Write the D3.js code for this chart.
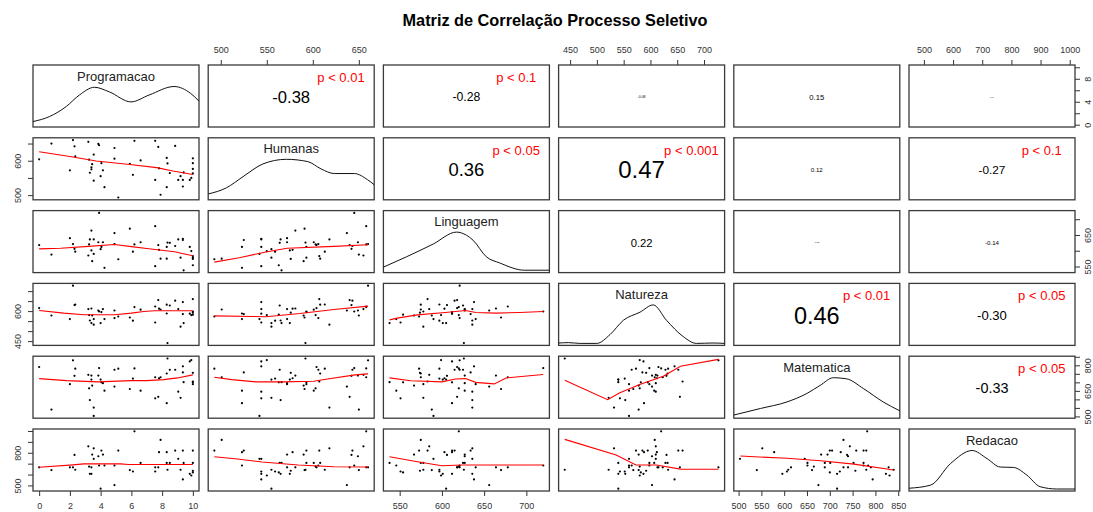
<!DOCTYPE html>
<html>
<head>
<meta charset="utf-8">
<script src="https://cdn.jsdelivr.net/npm/d3@7"></script>
<style>
body { margin: 0; background: #fff; }
text { font-family: "Liberation Sans", Arial, sans-serif; }
</style>
</head>
<body>
<div id="chart"></div>
<script>
// variables of the matrix
var varNames = ["Programacao", "Humanas", "Linguagem", "Natureza", "Matematica", "Redacao"];

// one value per student, same order in every array
var programacao = [0, 0.8, 2.0, 2.2, 2.3, 2.35, 3.2, 3.25, 3.3, 3.4, 3.4, 3.45, 3.55, 3.55, 3.85, 3.9, 4.0, 4.05, 4.15, 4.25,
	4.9, 4.9, 5.15, 5.9, 6.1, 6.2, 6.6, 7.55, 7.55, 7.75, 7.8, 7.9, 8.3, 8.3, 8.35, 8.5, 8.85, 9.05, 9.2, 9.35,
	9.35, 9.4, 9.8, 9.9, 10, 10, 10, 10];
var humanas = [604, 650, 572, 660, 642, 613, 655, 603, 565, 581, 575, 590, 618, 542, 649, 645, 555, 593, 572, 523,
	637, 606, 493, 591, 559, 658, 601, 658, 544, 640, 578, 501, 608, 523, 592, 564, 643, 544, 555, 544,
	525, 566, 544, 550, 607, 593, 576, 563];
var linguagem = [618, 588, 640, 621, 606, 597, 585, 620, 636, 664, 601, 567, 636, 590, 627, 720, 605, 612, 627, 546,
	656, 621, 573, 670, 597, 620, 627, 678, 551, 618, 603, 575, 575, 612, 626, 625, 615, 636, 578, 638,
	634, 538, 612, 599, 583, 578, 574, 554];
var natureza = [615, 578, 560, 727, 630, 633, 610, 580, 553, 613, 540, 578, 532, 560, 603, 598, 540, 595, 610, 560,
	603, 565, 573, 568, 552, 620, 607, 623, 543, 655, 612, 608, 632, 588, 440, 628, 652, 610, 522, 645,
	585, 540, 587, 580, 660, 598, 592, 582];
var matematica = [790, 540, 689, 829, 738, 780, 744, 665, 596, 740, 716, 681, 552, 503, 740, 784, 716, 700, 695, 651,
	675, 774, 780, 661, 722, 782, 651, 730, 606, 615, 724, 730, 752, 578, 840, 774, 774, 645, 609, 794,
	758, 701, 823, 831, 705, 689, 756, 700];
var redacao = [666, 641, 666, 666, 780, 644, 859, 673, 607, 666, 607, 783, 841, 744, 768, 683, 470, 820, 783, 683,
	503, 683, 820, 641, 628, 997, 707, 666, 628, 666, 805, 918, 707, 805, 644, 707, 820, 744, 644, 555,
	820, 707, 607, 591, 820, 707, 635, 619];

// density curves on the diagonal: [position along panel 0..1, height relative to peak]
var densProgramacao = [[0, .09], [.10, .22], [.20, .48], [.28, .78], [.37, .98], [.46, .86], [.59, .60], [.70, .78], [.85, 1.0], [.95, .82], [1, .62]];
var densHumanas = [[0, .10], [.11, .26], [.21, .55], [.33, .88], [.47, 1.0], [.60, .94], [.68, .75], [.76, .63], [.88, .63], [.96, .47], [1, .34]];
var densLinguagem = [[0, .09], [.14, .36], [.30, .69], [.44, 1.0], [.50, .92], [.54, .79], [.62, .36], [.70, .20], [.85, .01], [1, .01]];
var densNatureza = [[0, .01], [.06, .02], [.13, 0], [.23, 0], [.31, .23], [.39, .60], [.49, .81], [.57, 1.0], [.65, .60], [.75, .18], [.83, 0], [.93, .01], [1, 0]];
var densMatematica = [[0, .03], [.16, .20], [.32, .37], [.44, .59], [.52, .80], [.60, 1.0], [.68, .97], [.78, .72], [.90, .37], [1, .14]];
var densRedacao = [[0, .02], [.13, .10], [.25, .66], [.38, 1.0], [.47, .79], [.55, .57], [.63, .56], [.71, .36], [.79, .06], [.89, 0], [1, 0]];

// correlations in the upper triangle: [row, col]
var corPairs = [[0, 1], [0, 2], [0, 3], [0, 4], [0, 5], [1, 2], [1, 3], [1, 4], [1, 5], [2, 3], [2, 4], [2, 5], [3, 4], [3, 5], [4, 5]];
var corValues = [-0.38, -0.28, -0.08, 0.15, 0.04, 0.36, 0.47, 0.12, -0.27, 0.22, -0.05, -0.14, 0.46, -0.30, -0.33];
var corSignif = ["p < 0.01", "p < 0.1", "", "", "", "p < 0.05", "p < 0.001", "", "p < 0.1", "", "", "", "p < 0.01", "p < 0.05", "p < 0.05"];

// smoothed (red) lines of the lower panels, [x, y] in data units
var smoothPairs = [[1, 0], [2, 0], [3, 0], [4, 0], [5, 0], [2, 1], [3, 1], [4, 1], [5, 1], [3, 2], [4, 2], [5, 2], [4, 3], [5, 3], [5, 4]];
var smoothLines = [
	[[0, 626], [2.2, 611], [3.7, 599], [5.9, 589], [7.65, 580], [8.7, 570], [10, 560]],
	[[0, 606], [1.4, 608], [3.2, 614], [4.9, 620], [6, 613], [7, 607], [7.7, 603], [8.8, 597], [10, 584]],
	[[0, 603], [1.6, 590], [2.9, 582], [4.9, 582], [6, 590], [6.8, 598], [7.5, 602], [10, 602]],
	[[0, 722], [1.8, 710], [3.8, 703], [6, 710], [7, 710], [8.1, 716], [9, 726], [10, 744]],
	[[0, 667], [2.2, 689], [2.9, 698], [5.3, 698], [5.8, 692], [10, 692]],
	[[493, 564], [520, 578], [549, 596], [572, 608], [623, 614], [660, 619]],
	[[493, 576], [534, 573], [549, 572], [586, 588], [623, 608], [660, 625]],
	[[493, 730], [512, 716], [538, 703], [568, 703], [601, 706], [616, 720], [646, 744], [660, 750]],
	[[493, 763], [518, 742], [545, 715], [584, 687], [623, 672], [660, 669]],
	[[538, 556], [547, 565], [571, 581], [604, 593], [628, 603], [640, 593], [664, 590], [692, 593], [720, 598]],
	[[538, 726], [563, 709], [600, 703], [616, 720], [628, 722], [640, 700], [662, 691], [676, 726], [720, 746]],
	[[538, 763], [571, 718], [600, 681], [624, 687], [720, 687]],
	[[440, 712], [520, 598], [542, 637], [580, 687], [624, 736], [656, 795], [727, 835]],
	[[440, 923], [536, 779], [573, 687], [611, 687], [656, 650], [694, 648], [727, 648]],
	[[504, 770], [606, 749], [680, 727], [753, 696], [840, 641]]
];

// axis ticks and the subset labelled on the vertical axes
var ticks = [[0, 2, 4, 6, 8, 10], [500, 550, 600, 650], [550, 600, 650, 700], [450, 500, 550, 600, 650, 700],
	[500, 550, 600, 650, 700, 750, 800, 850], [500, 600, 700, 800, 900, 1000]];
var sideLabels = [[0, 4, 8], [500, 600], [550, 650], [450, 600], [500, 650, 800], [500, 800]];

var W = 1093, H = 512;
var left = 33, top0 = 65, pw = 166, ph = 62, stepX = 175.2, stepY = 72.8;
var n = varNames.length;
var data = [programacao, humanas, linguagem, natureza, matematica, redacao];
var dens = [densProgramacao, densHumanas, densLinguagem, densNatureza, densMatematica, densRedacao];

var svg = d3.select("#chart").append("svg")
	.attr("width", W)
	.attr("height", H);

svg.append("text")
	.attr("x", 555)
	.attr("y", 26)
	.attr("text-anchor", "middle")
	.style("font-weight", "bold")
	.style("font-size", "16.3px")
	.text("Matriz de Correlação Processo Seletivo");

// one scale per variable, padded by 4% like R
var xs = [], ys = [];
for (var k = 0; k < n; k++) {
	var ext = d3.extent(data[k]);
	var pad = (ext[1] - ext[0]) * 0.04;
	xs.push(d3.scaleLinear().domain([ext[0] - pad, ext[1] + pad]).range([left + k * stepX, left + k * stepX + pw]));
	ys.push(d3.scaleLinear().domain([ext[0] - pad, ext[1] + pad]).range([top0 + k * stepY + ph, top0 + k * stepY]));
}

var styleAxis = function(g) {
	g.select(".domain").remove();
	g.selectAll(".tick line").attr("stroke", "#333");
	g.selectAll(".tick text").attr("fill", "#333").style("font-size", "9px");
};

// column axes: bottom for odd columns, top for even columns
for (var j = 0; j < n; j++) {
	if (j % 2 == 1) {
		svg.append("g")
			.attr("transform", "translate(0," + top0 + ")")
			.call(d3.axisTop(xs[j]).tickValues(ticks[j]).tickSize(5).tickPadding(7).tickFormat(d3.format("d")))
			.call(styleAxis);
	} else {
		svg.append("g")
			.attr("transform", "translate(0," + (top0 + (n - 1) * stepY + ph) + ")")
			.call(d3.axisBottom(xs[j]).tickValues(ticks[j]).tickSize(5).tickPadding(7).tickFormat(d3.format("d")))
			.call(styleAxis);
	}
}

// row axes: right for odd rows, left for even rows, labels rotated
for (var i = 0; i < n; i++) {
	var labs = sideLabels[i];
	var fmt = function(d) { return labs.indexOf(d) >= 0 ? d : ""; };
	var ax, gx, off;
	if (i % 2 == 0) {
		ax = d3.axisRight(ys[i]); gx = left + (n - 1) * stepX + pw; off = 13;
	} else {
		ax = d3.axisLeft(ys[i]); gx = left; off = -15;
	}
	svg.append("g")
		.attr("transform", "translate(" + gx + ",0)")
		.call(ax.tickValues(ticks[i]).tickSize(5).tickFormat(fmt))
		.call(styleAxis)
		.selectAll(".tick text")
		.attr("x", 0)
		.attr("dy", "0.35em")
		.attr("text-anchor", "middle")
		.attr("transform", "translate(" + off + ",0) rotate(-90)");
}

// panel boxes
for (var i = 0; i < n; i++) {
	for (var j = 0; j < n; j++) {
		svg.append("rect")
			.attr("x", left + j * stepX)
			.attr("y", top0 + i * stepY)
			.attr("width", pw)
			.attr("height", ph)
			.attr("fill", "none")
			.attr("stroke", "#3a3a3a")
			.attr("stroke-width", 1.3);
	}
}

// lower panels: points
for (var i = 1; i < n; i++) {
	for (var j = 0; j < i; j++) {
		svg.append("g")
			.selectAll("circle")
			.data(d3.range(data[0].length))
			.enter()
			.append("circle")
			.attr("cx", function(d) { return xs[j](data[j][d]); })
			.attr("cy", function(d) { return ys[i](data[i][d]); })
			.attr("r", 1.1)
			.attr("fill", "#000");
	}
}

// lower panels: smooth lines
var line = d3.line();
smoothPairs.forEach(function(p, k) {
	var i = p[0], j = p[1];
	svg.append("path")
		.attr("d", line(smoothLines[k].map(function(d) { return [xs[j](d[0]), ys[i](d[1])]; })))
		.attr("fill", "none")
		.attr("stroke", "red")
		.attr("stroke-width", 1.1);
});

// diagonal: name and density
for (var k = 0; k < n; k++) {
	var x0 = left + k * stepX, y0 = top0 + k * stepY;
	var dx = d3.scaleLinear().domain([0, 1]).range([x0, x0 + pw]);
	var dy = d3.scaleLinear().domain([0, 1]).range([y0 + ph - 2, y0 + 21.5]);
	svg.append("path")
		.attr("d", d3.line().curve(d3.curveMonotoneX)
			.x(function(d) { return dx(d[0]); })
			.y(function(d) { return dy(d[1]); })(dens[k]))
		.attr("fill", "none")
		.attr("stroke", "#111")
		.attr("stroke-width", 1);
	svg.append("text")
		.attr("x", x0 + pw / 2)
		.attr("y", y0 + 11)
		.attr("dy", "0.35em")
		.attr("text-anchor", "middle")
		.attr("fill", "#222")
		.style("font-size", "13px")
		.text(varNames[k]);
}

// upper panels: correlation, sized by |r|, and significance
corPairs.forEach(function(p, k) {
	var i = p[0], j = p[1];
	var x0 = left + j * stepX, y0 = top0 + i * stepY;
	var r = corValues[k];
	var t = svg.append("text")
		.attr("x", x0 + pw / 2)
		.attr("y", y0 + ph / 2 + 1)
		.attr("dy", "0.35em")
		.attr("text-anchor", "middle")
		.attr("fill", "#000")
		.style("font-size", "20px")
		.text(r.toFixed(2));
	var len = t.node().getComputedTextLength();
	t.style("font-size", (20 * 0.6 * pw * Math.abs(r) / len) + "px");
	if (corSignif[k] != "") {
		svg.append("text")
			.attr("x", x0 + 0.8 * pw)
			.attr("y", y0 + 0.2 * ph)
			.attr("dy", "0.35em")
			.attr("text-anchor", "middle")
			.attr("fill", "red")
			.style("font-size", "13px")
			.text(corSignif[k]);
	}
});
</script>
</body>
</html>
